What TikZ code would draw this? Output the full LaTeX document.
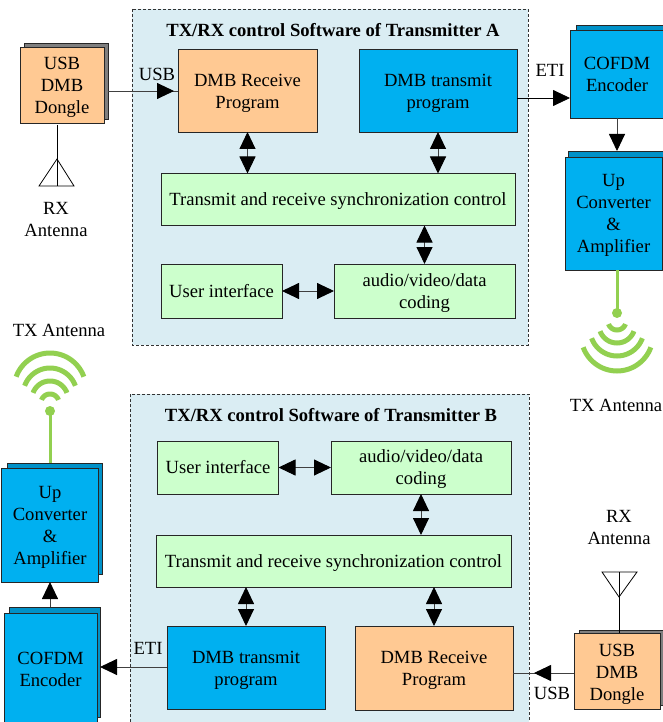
\documentclass[tikz,border=0pt]{standalone}
\usepackage{fontspec}
\setmainfont{Liberation Serif}
\usetikzlibrary{arrows.meta}
\definecolor{panel}{HTML}{DAEDF3}
\definecolor{orangebox}{HTML}{FFC993}
\definecolor{greenbox}{HTML}{CCFFCC}
\definecolor{bluebox}{HTML}{00B0F0}
\definecolor{blueback}{HTML}{0091C8}
\definecolor{grayback}{HTML}{7F7F7F}
\definecolor{wifi}{HTML}{92D050}
\tikzset{
  x=1pt,y=-1pt,
  every node/.style={font=\fontsize{18.6}{22}\selectfont,inner sep=0pt,outer sep=0pt,align=center,text=black},
  panelbox/.style={draw=black!80,fill=panel,densely dashed,line width=.7pt},
  blockbox/.style={draw=black!85,line width=.8pt},
  link/.style={draw=black!75,line width=.9pt},
  tip/.style={-{Triangle[length=17pt,width=16pt,color=black]}},
  tips/.style={{Triangle[length=17pt,width=16pt,color=black]}-{Triangle[length=17pt,width=16pt,color=black]}},
  greenline/.style={draw=wifi,line width=3pt},
  wifiarc/.style={draw=wifi,line width=5pt},
  antline/.style={draw=black,line width=.8pt},
  rbox/.style args={#1/#2/#3}{blockbox,fill=#1,minimum width=#2pt,minimum height=#3pt},
  low/.style={label={[yshift=-2pt]center:{#1}}},
  lower/.style={label={[yshift=-3pt]center:{#1}}},
}
\begin{document}
\begin{tikzpicture}
\useasboundingbox (0,0) rectangle (663,722);
\fill[white] (0,0) rectangle (663,722);
\clip (0,0) rectangle (663,722);
% panels
\path[panelbox] (132,9) rectangle (528,345);
\node (titleA) at (333,30) {\bfseries TX/RX control Software of Transmitter A};
\path[panelbox] (130,394) rectangle (529,730);
\node (titleB) at (331,415) {\bfseries TX/RX control Software of Transmitter B};

% blocks A
\node[rbox=grayback/84/76] (dongleAb) at (66,81) {};
\node[rbox=orangebox/84/76,low={USB\\DMB\\Dongle}] (dongleA) at (62,85) {};
\node[rbox=orangebox/139/83,lower={DMB Receive\\Program}] (recvA) at (247.5,90.5) {};
\node[rbox=bluebox/158/83,lower={DMB transmit\\program}] (txA) at (438,90.5) {};
\node[rbox=greenbox/354/52,low={Transmit and receive synchronization control}] (syncA) at (338,199.5) {};
\node[rbox=greenbox/121/54] (uiA) at (221.5,291) {User interface};
\node[rbox=greenbox/181/54,low={audio/video/data\\coding}] (avA) at (424.5,291) {};
\node[rbox=blueback/94/88] (cofAb) at (623,69) {};
\node[rbox=bluebox/94/88] (cofA) at (617,74) {COFDM\\Encoder};
\node[rbox=blueback/97/111] (upAb) at (616.5,206.5) {};
\node[rbox=bluebox/97/113,low={Up\\Converter\\\&\\Amplifier}] (upA) at (613.5,213.5) {};

% blocks B
\node[rbox=greenbox/121/53] (uiB) at (218,467.5) {User interface};
\node[rbox=greenbox/180/53,low={audio/video/data\\coding}] (avB) at (421,467.5) {};
\node[rbox=greenbox/355/52,low={Transmit and receive synchronization control}] (syncB) at (333.5,561) {};
\node[rbox=bluebox/158/83,lower={DMB transmit\\program}] (txB) at (246,667.5) {};
\node[rbox=orangebox/158/84,low={DMB Receive\\Program}] (recvB) at (434,668) {};
\node[rbox=grayback/86/75] (dongleBb) at (622,667.5) {};
\node[rbox=orangebox/86/76,lower={USB\\DMB\\Dongle}] (dongleB) at (617,671) {};
\node[rbox=blueback/91/110] (cofBb) at (54.5,662) {};
\node[rbox=bluebox/93/112] (cofB) at (50.5,669) {COFDM\\Encoder};
\node[rbox=blueback/95/111] (upBb) at (54.5,518.5) {};
\node[rbox=bluebox/97/114,low={Up\\Converter\\\&\\Amplifier}] (upB) at (50,525) {};

% plain labels
\node (usbA) at (157,74) {USB};
\node (etiA) at (550,70) {ETI};
\node (rxA) at (56,220) {RX\\Antenna};
\node (rxB) at (619,527) {RX\\Antenna};
\node (usbB) at (552,693) {USB};
\node (etiB) at (148,648) {ETI};
\node (txantA) at (616,405) {TX Antenna};
\node (txantB) at (59,330) {TX Antenna};

% connectors A
\draw[link] (dongleAb.east |- 0,91) -- (recvA.west |- 0,91);
\draw[link,tip] (dongleAb.east |- 0,91) -- (174,91);
\draw[link,tips] (recvA.south) -- (recvA.south |- syncA.north);
\draw[link,tips] (txA.south) -- (txA.south |- syncA.north);
\draw[link,tips] (avA.north) -- (avA.north |- syncA.south);
\draw[link,tips] (uiA.east) -- (avA.west);
\draw[antline,tip] (txA.east |- 0,98) -- (cofA.west |- 0,98);
\draw[link,tip] (cofA.south) -- (cofA.south |- upAb.north);

% connectors B
\draw[link,tips] (avB.south) -- (avB.south |- syncB.north);
\draw[link,tips] (uiB.east) -- (avB.west);
\draw[link,tips] (txB.north |- syncB.south) -- (txB.north);
\draw[link,tips] (recvB.north |- syncB.south) -- (recvB.north);
\draw[link,tip] (txB.west |- 0,667) -- (cofBb.east |- 0,667);
\draw[link,tip] (upB.south |- cofBb.north) -- (upB.south);
\draw[link] (dongleB.west |- 0,673) -- (recvB.east |- 0,673);
\draw[link,tip] (dongleB.west |- 0,673) -- (534,673);

% RX antennas
\draw[antline] (57,125) -- (57,186);
\draw[antline] (57,159) -- (39,186) -- (74,186) -- cycle;
\draw[antline] (619,633) -- (619,572);
\draw[antline] (602,572) -- (637,572) -- (619,597) -- cycle;

% TX antennas
\draw[greenline] (upA.south -| 617,0) -- (617,313);
\fill[wifi] (617,313) circle (5);
\draw[greenline] (50,463) -- (50,411);
\fill[wifi] (50,411) circle (5);
\foreach \R/\off in {9/8,18/12,27/16,36/22}{
  \draw[wifiarc] plot[domain=-70:70,samples=31] ({617+\R*sin(\x)},{313+\off+\R*cos(\x)});
  \draw[wifiarc] plot[domain=-70:70,samples=31] ({50+\R*sin(\x)},{411-\off-\R*cos(\x)});
}
\end{tikzpicture}
\end{document}
